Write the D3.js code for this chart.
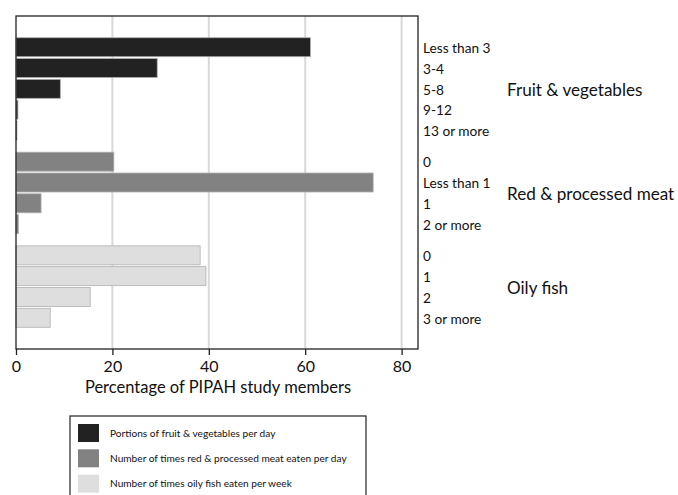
<!DOCTYPE html>
<html lang="en">
<head>
    <meta charset="UTF-8">
    <title>PIPAH diet</title>
    <script src="https://cdn.jsdelivr.net/npm/d3@7"></script>
    <style>
        body { margin: 0; background: #fff; }
        text { font-family: Lato, "Open Sans", sans-serif; fill: #111; }
    </style>
</head>
<body>
<script>
    // data
    var groupNames = ["Fruit & vegetables", "Red & processed meat", "Oily fish"];
    var fruitCats = ["Less than 3", "3-4", "5-8", "9-12", "13 or more"];
    var fruitVals = [61.1, 29.3, 9.2, 0.4, 0.2];
    var meatCats = ["0", "Less than 1", "1", "2 or more"];
    var meatVals = [20.3, 74.1, 5.2, 0.5];
    var fishCats = ["0", "1", "2", "3 or more"];
    var fishVals = [38.2, 39.4, 15.4, 7.1];
    var legendLabels = ["Portions of fruit & vegetables per day",
        "Number of times red & processed meat eaten per day",
        "Number of times oily fish eaten per week"];
    var xTicks = [0, 20, 40, 60, 80];

    var colors = ["#222222", "#828282", "#dedede"];
    var width = 678, height = 495;
    var plot = {left: 16, top: 16, right: 418, bottom: 349};

    // flatten into rows, each with a slot position (half-slot gap between groups)
    var groups = [[fruitCats, fruitVals], [meatCats, meatVals], [fishCats, fishVals]];
    var rows = [];
    var idx = 0;
    groups.forEach(function(g, gi){
        g[0].forEach(function(c, i){
            rows.push({group: gi, cat: c, value: g[1][i], slot: 1 + idx + gi * 0.5});
            idx++;
        });
    });

    var svg = d3.select('body').append('svg').attr('width', width).attr('height', height);

    var x = d3.scaleLinear().domain([0, 83.4]).range([plot.left, plot.right]);
    var y = d3.scaleLinear().domain([0, 16]).range([plot.top, plot.bottom]);
    var slotH = y(1) - y(0);
    var barH = 19;
    var barOff = (slotH - barH) / 2;

    // gridlines
    svg.selectAll('line.grid').data(xTicks.filter(function(d){return d > 0;}))
        .enter().append('line')
        .attr('class', 'grid')
        .attr('x1', function(d){return x(d);}).attr('x2', function(d){return x(d);})
        .attr('y1', plot.top).attr('y2', plot.bottom)
        .attr('stroke', '#d9d9d9').attr('stroke-width', 2);

    // bars
    svg.selectAll('rect.bar').data(rows).enter().append('rect')
        .attr('class', 'bar')
        .attr('x', x(0))
        .attr('y', function(d){return y(d.slot) + barOff;})
        .attr('width', function(d){return x(d.value) - x(0);})
        .attr('height', barH)
        .attr('fill', function(d){return colors[d.group];})
        .attr('stroke', '#b0b0b0').attr('stroke-width', 0.8);

    // frame
    svg.append('rect')
        .attr('x', plot.left).attr('y', plot.top)
        .attr('width', plot.right - plot.left).attr('height', plot.bottom - plot.top)
        .attr('fill', 'none').attr('stroke', '#222').attr('stroke-width', 1.3);

    // x axis
    var xAxis = d3.axisBottom(x).tickValues(xTicks).tickSize(6).tickPadding(6);
    var ax = svg.append('g').attr('transform', 'translate(0,' + plot.bottom + ')').call(xAxis);
    ax.select('.domain').remove();
    ax.selectAll('line').attr('stroke', '#222').attr('stroke-width', 1.3);
    ax.selectAll('text').attr('font-size', 16).attr('font-family', 'Lato, "Open Sans", sans-serif')
        .attr('fill', '#111');

    svg.append('text')
        .attr('x', (plot.left + plot.right) / 2 + 1).attr('y', 393)
        .attr('text-anchor', 'middle').attr('font-size', 16.5)
        .text('Percentage of PIPAH study members');

    // category labels on the right
    svg.selectAll('text.cat').data(rows).enter().append('text')
        .attr('class', 'cat')
        .attr('x', 423)
        .attr('y', function(d){return y(d.slot) + slotH / 2 + 1;})
        .attr('dy', '0.35em')
        .attr('font-size', 13.7)
        .text(function(d){return d.cat;});

    // group labels
    groupNames.forEach(function(name, gi){
        var gr = rows.filter(function(r){return r.group === gi;});
        var yc = (y(gr[0].slot) + y(gr[gr.length - 1].slot)) / 2 + slotH / 2 + 1;
        svg.append('text')
            .attr('x', 507).attr('y', yc).attr('dy', '0.35em')
            .attr('font-size', 17.1)
            .text(name);
    });

    // legend
    var lg = svg.append('g');
    lg.append('rect')
        .attr('x', 70).attr('y', 416).attr('width', 296).attr('height', 90)
        .attr('fill', 'none').attr('stroke', '#222').attr('stroke-width', 1.2);
    legendLabels.forEach(function(lab, i){
        lg.append('rect')
            .attr('x', 78).attr('y', 424 + i * 25.3).attr('width', 21).attr('height', 18)
            .attr('fill', colors[i]);
        lg.append('text')
            .attr('x', 110).attr('y', 433 + i * 25.3).attr('dy', '0.35em')
            .attr('font-size', 10.15)
            .text(lab);
    });
</script>
</body>
</html>
